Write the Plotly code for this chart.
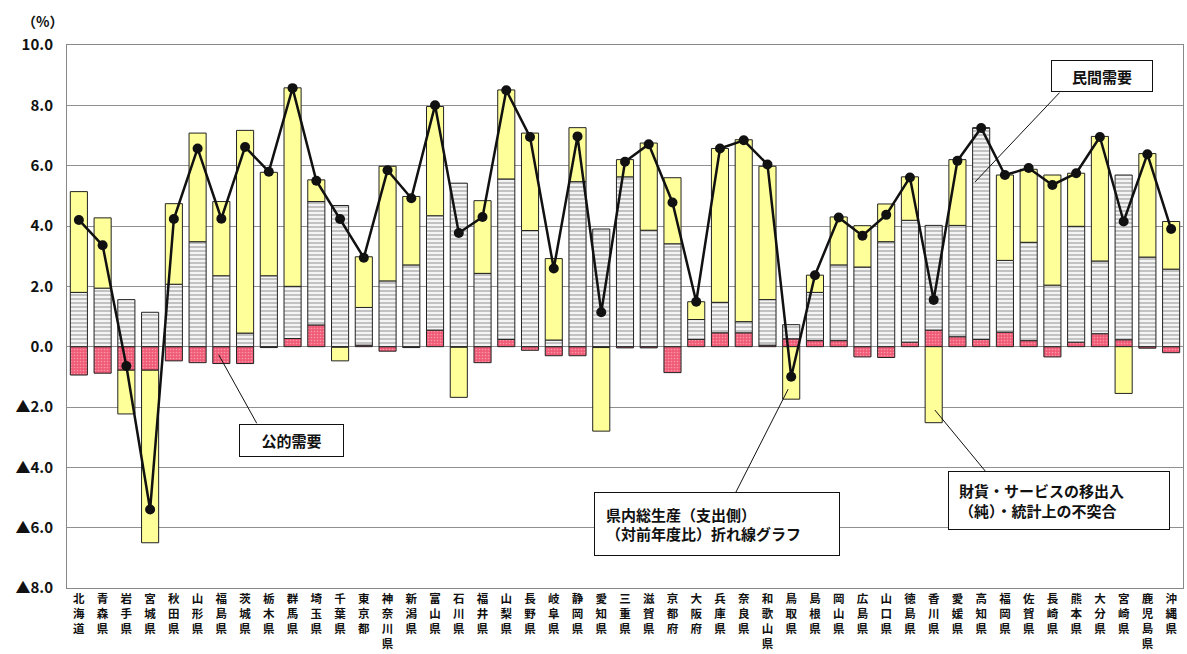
import plotly.graph_objects as go

prefs = ["北海道","青森県","岩手県","宮城県","秋田県","山形県","福島県","茨城県","栃木県","群馬県",
         "埼玉県","千葉県","東京都","神奈川県","新潟県","富山県","石川県","福井県","山梨県","長野県",
         "岐阜県","静岡県","愛知県","三重県","滋賀県","京都府","大阪府","兵庫県","奈良県","和歌山県",
         "鳥取県","島根県","岡山県","広島県","山口県","徳島県","香川県","愛媛県","高知県","福岡県",
         "佐賀県","長崎県","熊本県","大分県","宮崎県","鹿児島県","沖縄県"]

public_demand = [-0.94,-0.88,-0.78,-0.78,-0.47,-0.53,-0.56,-0.56,-0.03,0.27,
                 0.72,-0.02,0.05,-0.15,-0.03,0.55,-0.02,-0.53,0.24,-0.12,
                 -0.30,-0.30,-0.03,-0.04,-0.04,-0.86,0.24,0.46,0.46,0.05,
                 0.26,0.20,0.20,-0.34,-0.36,0.15,0.55,0.33,0.24,0.48,
                 0.20,-0.34,0.15,0.43,0.23,-0.05,-0.20]

private_demand = [1.80,1.94,1.56,1.14,2.07,3.48,2.35,0.45,2.35,1.73,
                  4.09,4.68,1.25,2.18,2.71,3.79,5.42,2.43,5.32,3.85,
                  0.22,5.47,3.90,5.63,3.86,3.41,0.66,1.01,0.37,1.51,
                  0.47,1.60,2.51,2.64,3.48,4.04,3.47,3.69,7.01,2.38,
                  3.26,2.04,3.84,2.41,5.46,2.97,2.57]

net_exports = [3.34,2.33,-1.45,-5.72,2.67,3.60,2.46,6.72,3.43,6.58,
               0.72,-0.45,1.68,3.80,2.27,3.62,-1.66,2.41,2.95,3.23,
               2.70,1.79,-2.77,0.57,2.89,2.19,0.59,5.10,6.03,4.42,
               -1.74,0.57,1.59,1.37,1.25,1.44,-2.52,2.18,0.00,2.83,
               2.42,3.65,1.76,4.13,-1.55,3.43,1.58]

gdp_growth = [4.20,3.36,-0.64,-5.40,4.23,6.57,4.24,6.62,5.80,8.57,
              5.50,4.23,2.95,5.85,4.92,8.00,3.77,4.30,8.50,6.95,
              2.59,6.97,1.14,6.13,6.71,4.78,1.49,6.57,6.84,6.04,
              -1.00,2.37,4.28,3.68,4.37,5.61,1.55,6.16,7.25,5.69,
              5.92,5.36,5.75,6.95,4.15,6.38,3.90]

y_ticks = [10, 8, 6, 4, 2, 0, -2, -4, -6, -8]
y_tick_labels = ["10.0", "8.0", "6.0", "4.0", "2.0", "0.0", "▲2.0", "▲4.0", "▲6.0", "▲8.0"]

x_labels = ["<br>".join(list(p)) for p in prefs]

fig = go.Figure()

fig.add_trace(go.Bar(
    x=x_labels, y=public_demand, name="公的需要",
    marker=dict(color="#f3647e", line=dict(color="#222222", width=1),
                pattern=dict(shape=".", fgcolor="#ffd0d8", bgcolor="#f05a76", size=3, solidity=0.25)),
))
fig.add_trace(go.Bar(
    x=x_labels, y=private_demand, name="民間需要",
    marker=dict(color="#dddddd", line=dict(color="#222222", width=1),
                pattern=dict(shape="-", fgcolor="#8f8f8f", bgcolor="#f4f4f4", size=4, solidity=0.5)),
))
fig.add_trace(go.Bar(
    x=x_labels, y=net_exports, name="財貨・サービスの移出入（純）・統計上の不突合",
    marker=dict(color="#ffff99", line=dict(color="#222222", width=1)),
))
fig.add_trace(go.Scatter(
    x=x_labels, y=gdp_growth, mode="lines+markers", name="県内総生産（支出側）",
    line=dict(color="#111111", width=2.5),
    marker=dict(color="#111111", size=10, symbol="circle"),
))

label_font = dict(family="Noto Sans CJK JP", size=15, color="#111111")

# (x, y, text, width, height, align, pad)
annots = [
    (43.08, 8.96, "<b>民間需要</b>", 90, 20, "center", 5),
    (8.94, -3.10, "<b>公的需要</b>", 93, 21, "center", 5),
    (26.88, -5.88, "<b>県内総生産（支出側）<br>（対前年度比）折れ線グラフ</b>", 222, 40, "left", 11),
    (41.29, -5.10, "<b>財貨・サービスの移出入<br>（純）・統計上の不突合</b>", 200, 37, "left", 10),
]
for x, y, text, w, h, al, pad in annots:
    fig.add_annotation(x=x, y=y, xref="x", yref="y", text=text,
                       showarrow=False, font=label_font, align=al, width=w, height=h,
                       bgcolor="white", bordercolor="#111111", borderwidth=1, borderpad=pad)

leaders = [
    (41.3, 8.42, 37.74, 5.46),
    (7.49, -2.54, 5.89, -0.27),
    (27.64, -4.87, 29.87, -1.41),
    (38.2, -4.15, 36.05, -2.1),
]
for x0, y0, x1, y1 in leaders:
    fig.add_shape(type="line", xref="x", yref="y", x0=x0, y0=y0, x1=x1, y1=y1,
                  line=dict(color="#111111", width=1))

fig.add_annotation(x=-0.022, y=1.044, xref="paper", yref="paper", text="<b>（%）</b>",
                   xanchor="center", yanchor="middle",
                   showarrow=False, font=dict(family="Noto Sans CJK JP", size=14, color="#111111"))

fig.update_layout(
    width=1187, height=654,
    margin=dict(l=67, r=3, t=45, b=62),
    barmode="relative", bargap=0.28,
    showlegend=False,
    plot_bgcolor="white", paper_bgcolor="white",
    font=dict(family="Noto Sans CJK JP", color="#111111"),
)
fig.update_xaxes(
    type="category", range=[-0.5, 46.5],
    showline=True, linecolor="#888888", linewidth=1, mirror=True,
    showgrid=False, ticks="", tickangle=0,
    tickfont=dict(family="Noto Sans CJK JP", size=11.5, color="#111111", weight="bold"),
)
fig.update_yaxes(
    range=[-8, 10], tickvals=y_ticks, ticktext=y_tick_labels,
    showline=True, linecolor="#888888", linewidth=1, mirror=True,
    showgrid=True, gridcolor="#909090", gridwidth=1,
    zeroline=True, zerolinecolor="#909090", zerolinewidth=1,
    ticks="", ticklabelstandoff=10,
    tickfont=dict(family="Noto Sans CJK JP", size=15, color="#111111", weight="bold"),
)

fig.write_html("out.html", config={"displayModeBar": False},
               post_script="document.body.style.margin='0';document.body.style.padding='0';document.body.style.overflow='hidden';")
